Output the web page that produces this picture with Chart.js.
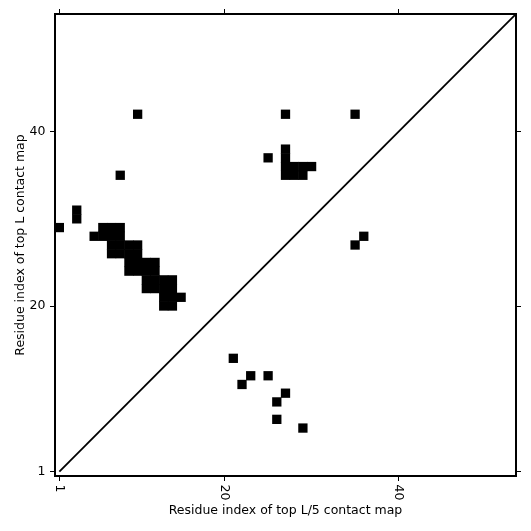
<!DOCTYPE html>
<html lang="en">
  <head>
    <meta charset="UTF-8" />
    <title>contact map</title>
    <script src="https://cdn.jsdelivr.net/npm/chart.js"></script>
    <style>
      body { margin: 0; background: #fff; }
      .chart-box { width: 531px; height: 531px; }
    </style>
  </head>
  <body>
    <div class="chart-box">
      <canvas id="myChart" width="531" height="531"></canvas>
    </div>
    <script>
      // residue pairs [i, j] of the two contact maps
      const topLContacts = [
        [10, 42], [27, 42], [35, 42], [25, 37],
        [27, 38], [27, 37], [27, 36], [28, 36], [29, 36], [30, 36],
        [27, 35], [28, 35], [29, 35], [8, 35],
        [3, 31], [3, 30], [1, 29],
        [6, 29], [7, 29], [8, 29], [5, 28], [6, 28], [7, 28], [8, 28],
        [7, 27], [8, 27], [9, 27], [10, 27], [7, 26], [8, 26], [9, 26], [10, 26],
        [9, 25], [10, 25], [11, 25], [12, 25], [9, 24], [10, 24], [11, 24], [12, 24],
        [11, 23], [12, 23], [13, 23], [14, 23], [11, 22], [12, 22], [13, 22], [14, 22],
        [13, 21], [14, 21], [15, 21], [13, 20], [14, 20],
      ];
      const topL5Contacts = [
        [36, 28], [35, 27], [21, 14], [23, 12], [25, 12],
        [22, 11], [27, 10], [26, 9], [26, 7], [29, 6],
      ];
      const tickValues = [1, 20, 40];
      const axisMin = 0.5;
      const axisMax = 53.5;
      const diagonal = [
        { x: 1, y: 1 },
        { x: 53.5, y: 53.5 },
      ];

      const fontFamily = "'DejaVu Sans', sans-serif";
      const setTicks = (scale) => {
        scale.ticks = tickValues.map((v) => ({ value: v }));
      };
      // square cell side = one residue on the x scale (a hair more so cells join)
      const cellRadius = (ctx) => {
        const s = ctx.chart.scales.x;
        const side = Math.abs(s.getPixelForValue(1) - s.getPixelForValue(0)) + 0.6;
        return side / 2 / Math.SQRT1_2;
      };
      const axisBase = (position, size) => ({
        type: "linear",
        position: position,
        min: axisMin,
        max: axisMax,
        afterBuildTicks: setTicks,
        afterFit: (scale) => {
          if (scale.isHorizontal()) scale.height = size;
          else scale.width = size;
        },
        grid: {
          drawOnChartArea: false,
          drawTicks: true,
          tickLength: 5,
          tickWidth: 1,
          tickColor: "#000",
        },
        border: { display: true, color: "#000", width: 2 },
        ticks: { display: false },
      });

      // x tick labels turned clockwise like the original
      const rotatedXLabels = {
        id: "rotatedXLabels",
        afterDraw(chart) {
          const { ctx } = chart;
          const x = chart.scales.x;
          ctx.save();
          ctx.font = "12.5px " + fontFamily;
          ctx.fillStyle = "#000";
          ctx.textAlign = "left";
          ctx.textBaseline = "middle";
          tickValues.forEach((v) => {
            ctx.save();
            ctx.translate(x.getPixelForValue(v), x.top + 8.5);
            ctx.rotate(Math.PI / 2);
            ctx.fillText(String(v), 0, 0);
            ctx.restore();
          });
          ctx.restore();
        },
      };

      const toPoints = (list) => list.map((p) => ({ x: p[0], y: p[1] }));

      const yLeft = axisBase("left", 55);
      yLeft.ticks = {
        display: true,
        color: "#000",
        padding: 4.5,
        font: { family: fontFamily, size: 12.5 },
      };
      yLeft.title = {
        display: true,
        text: "Residue index of top L contact map",
        color: "#000",
        font: { family: fontFamily, size: 12.5 },
        padding: { top: 13.5, bottom: 0 },
      };
      const xBottom = axisBase("bottom", 55);
      xBottom.title = {
        display: true,
        text: "Residue index of top L/5 contact map",
        color: "#000",
        font: { family: fontFamily, size: 12.5 },
        padding: { top: 0, bottom: 13 },
      };

      const cellStyle = {
        pointStyle: "rect",
        pointRadius: cellRadius,
        backgroundColor: "#000",
        borderWidth: 0,
      };

      const myChart = new Chart(document.getElementById("myChart"), {
        type: "scatter",
        data: {
          datasets: [
            Object.assign({ label: "top L", data: toPoints(topLContacts) }, cellStyle),
            Object.assign({ label: "top L/5", data: toPoints(topL5Contacts) }, cellStyle),
            {
              label: "diagonal",
              data: diagonal,
              showLine: true,
              pointRadius: 0,
              borderColor: "#000",
              borderWidth: 1.8,
            },
          ],
        },
        options: {
          responsive: false,
          animation: false,
          layout: { padding: 0 },
          plugins: {
            legend: { display: false },
            tooltip: { enabled: false },
          },
          scales: {
            x: xBottom,
            x2: axisBase("top", 14),
            y: yLeft,
            y2: axisBase("right", 15),
          },
        },
        plugins: [rotatedXLabels],
      });
    </script>
  </body>
</html>
